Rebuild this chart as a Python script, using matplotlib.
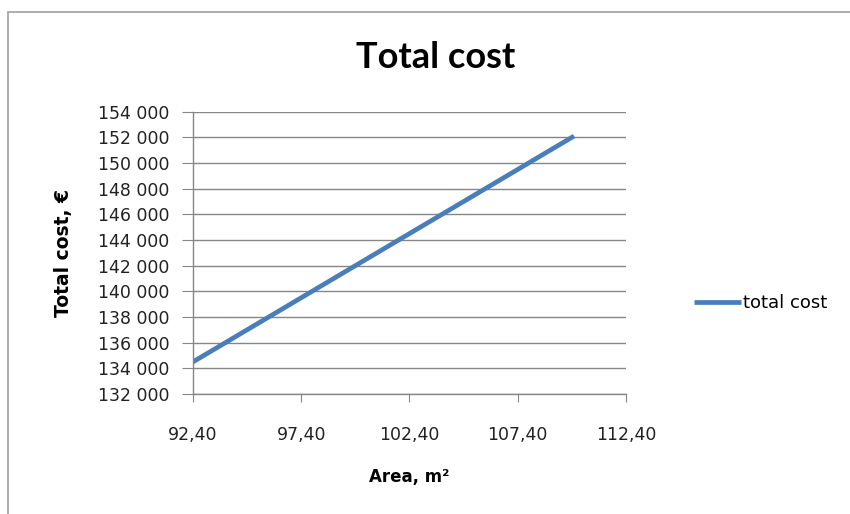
import matplotlib.pyplot as plt
from matplotlib.patches import Rectangle
from matplotlib.ticker import FuncFormatter

# data
area = [92.40, 110.00]
total_cost = [134500, 152100]
series_name = "total cost"

x_ticks = [92.40, 97.40, 102.40, 107.40, 112.40]
y_ticks = list(range(132000, 154001, 2000))

blue = "#4a7ebb"
grey = "#868686"

plt.rcParams["font.family"] = ["DejaVu Sans"]

fig = plt.figure(figsize=(8.5, 5.14), dpi=100)
fig.patches.append(Rectangle((8 / 850, -0.1), 1.1, 1 - 12 / 514 + 0.1,
                             transform=fig.transFigure, fill=False,
                             edgecolor="#a0a0a0", linewidth=1.2))

ax = fig.add_axes([0.227, 0.2335, 0.7365 - 0.227, 0.7827 - 0.2335])
ax.plot(area, total_cost, color=blue, linewidth=3.4, label=series_name,
        solid_capstyle="butt")

ax.set_xlim(92.40, 112.40)
ax.set_ylim(132000, 154000)
ax.set_xticks(x_ticks)
ax.set_yticks(y_ticks)
ax.xaxis.set_major_formatter(FuncFormatter(lambda v, p: f"{v:.2f}".replace(".", ",")))
ax.yaxis.set_major_formatter(FuncFormatter(lambda v, p: f"{int(v):,}".replace(",", " ")))

ax.grid(axis="y", color=grey, linewidth=1.0)
ax.set_axisbelow(True)
for s in ["top", "right"]:
    ax.spines[s].set_visible(False)
for s in ["left", "bottom"]:
    ax.spines[s].set_color(grey)
    ax.spines[s].set_linewidth(1.0)
ax.tick_params(axis="y", length=8, color=grey, labelsize=12.5, pad=9, labelcolor="#222222")
ax.tick_params(axis="x", length=6, color=grey, labelsize=12.5, pad=17, labelcolor="#222222")

ax.set_xlabel("Area, m²", fontsize=12, fontweight="bold", labelpad=17)
ax.set_ylabel("Total cost, €", fontsize=13.5, fontweight="bold", labelpad=18)
fig.text(0.512, 0.888, "Total cost", ha="center", va="center",
         fontsize=26, fontweight="bold", family="Lato")

ax.legend(loc="center left", bbox_to_anchor=(1.12, 0.322), frameon=False,
          fontsize=13, handlelength=2.6, handletextpad=0.1)

fig.savefig("out.png", dpi=100)
